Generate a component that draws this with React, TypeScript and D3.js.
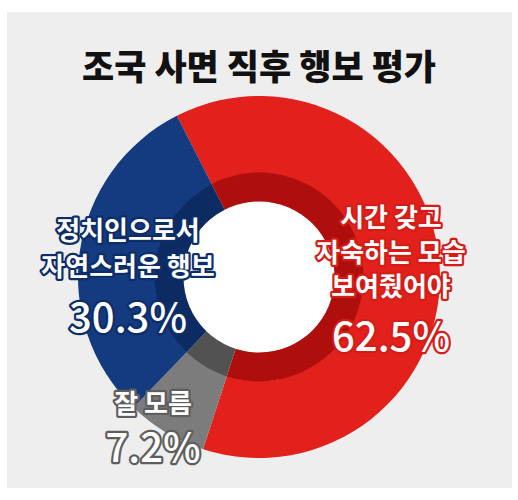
import React from 'react';
import * as d3 from 'd3';

const title = '조국 사면 직후 행보 평가';
const labels = ['시간 갖고 자숙하는 모습 보여줬어야', '잘 모름', '정치인으로서 자연스러운 행보'];
const values = [62.5, 7.2, 30.3];
const labelLines = [
  ['시간 갖고', '자숙하는 모습', '보여줬어야'],
  ['잘 모름'],
  ['정치인으로서', '자연스러운 행보'],
];
const colors = ['#e3211c', '#7c7c7c', '#143a7f'];
const darkColors = ['#ae0e0c', '#525252', '#0c2b62'];
const strokeColors = ['#d51d18', '#5e5e5e', '#0d2d69'];

const W = 518;
const H = 500;
const cx = 259;
const cy = 277;

// label anchor offsets relative to the donut centre
const labelPos = [
  { x: 132, ys: [-50, -15, 19], py: 74 },
  { x: -106, ys: [136], py: 185 },
  { x: -131, ys: [-37, -1], py: 55 },
];

type Datum = { label: string; value: number; i: number };

const FONT = '"Noto Sans CJK KR", "Noto Sans", sans-serif';

export default function App() {
  const data: Datum[] = labels.map((label, i) => ({ label, value: values[i], i }));
  const start = (-27 * Math.PI) / 180;

  const pie = d3
    .pie<Datum>()
    .sort(null)
    .value(d => d.value)
    .startAngle(start)
    .endAngle(start + 2 * Math.PI);

  const arcs = pie(data);

  const outer = d3.arc<d3.PieArcDatum<Datum>>().innerRadius(104).outerRadius(181);
  const inner = d3.arc<d3.PieArcDatum<Datum>>().innerRadius(75).outerRadius(104.5);

  const fmt = d3.format('.1f');

  const textStyle = (i: number): React.CSSProperties => ({
    paintOrder: 'stroke',
    stroke: strokeColors[i],
    strokeWidth: 4.5,
    strokeLinejoin: 'round',
    fill: '#ffffff',
  });

  return (
    <svg width={W} height={H} style={{ position: 'absolute', left: 0, top: 0, display: 'block' }}>
      <rect x={0} y={0} width={W} height={H} fill="#ffffff" />
      <rect x={7} y={12} width={505} height={476} fill="#eeeeee" />

      <text
        x={cx}
        y={80}
        textAnchor="middle"
        fontFamily={FONT}
        fontWeight={900}
        fontSize={35}
        fill="#111111"
      >
        {title}
      </text>

      <g transform={`translate(${cx},${cy})`}>
        {arcs.map(a => (
          <path key={'o' + a.data.i} d={outer(a) || ''} fill={colors[a.data.i]} />
        ))}
        {arcs.map(a => (
          <path key={'i' + a.data.i} d={inner(a) || ''} fill={darkColors[a.data.i]} />
        ))}
        <circle r={75.5} fill="#ffffff" />

        {arcs.map(a => {
          const i = a.data.i;
          const p = labelPos[i];
          return (
            <g key={'l' + i} fontFamily={FONT} textAnchor="middle">
              {labelLines[i].map((line, k) => (
                <text key={k} x={p.x} y={p.ys[k]} fontSize={26} fontWeight={700} style={textStyle(i)}>
                  {line}
                </text>
              ))}
              <text x={p.x} y={p.py} fontSize={40} fontWeight={500} style={textStyle(i)}>
                {fmt(a.data.value)}%
              </text>
            </g>
          );
        })}
      </g>
    </svg>
  );
}
